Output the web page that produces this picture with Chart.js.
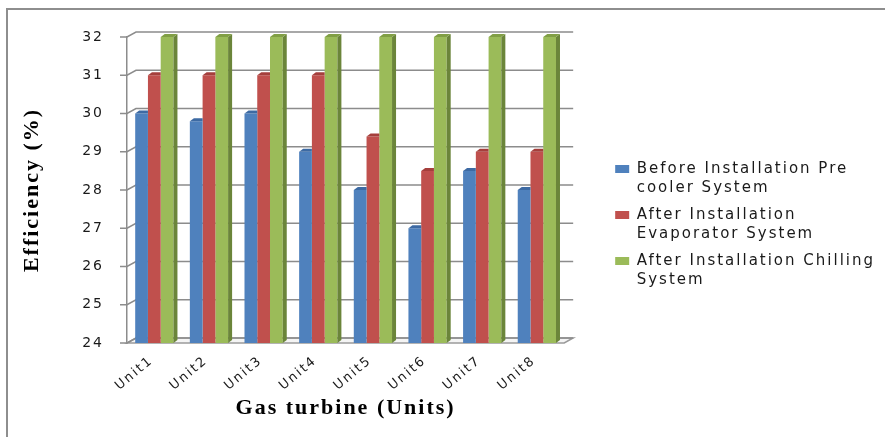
<!DOCTYPE html>
<html>
<head>
<meta charset="utf-8">
<script src="https://cdn.jsdelivr.net/npm/chart.js@4.4.1/dist/chart.umd.min.js"></script>
<style>
  html, body { margin: 0; padding: 0; background: #fff; overflow: hidden; }
  #wrap { position: relative; width: 885px; height: 437px; }
  #wrap canvas { position: absolute; left: 0; top: 0; }
  #frame { position: absolute; left: 6px; top: 8px; right: -10px; bottom: -10px;
           border-top: 2px solid #8e8e8e; border-left: 2px solid #8e8e8e; pointer-events: none; }
</style>
</head>
<body>
<div id="wrap">
  <canvas id="chart" width="885" height="437"></canvas>
  <div id="frame"></div>
</div>
<script>
const units = ["Unit1", "Unit2", "Unit3", "Unit4", "Unit5", "Unit6", "Unit7", "Unit8"];
const beforePreCooler = [30, 29.8, 30, 29, 28, 27, 28.5, 28];
const afterEvaporator = [31, 31, 31, 31, 29.4, 28.5, 29, 29];
const afterChilling = [32, 32, 32, 32, 32, 32, 32, 32];
const seriesNames = [
  ["Before Installation Pre", "cooler System"],
  ["After Installation", "Evaporator System"],
  ["After Installation Chilling", "System"]
];
const yMin = 24, yMax = 32, yStep = 1;

const faceColors = ["#4f81bd", "#c0504d", "#9bbb59"];
const capColors = ["#3d6aa3", "#a53f3c", "#819f45"];
const sideColors = ["#385d8a", "#8c3836", "#6b853a"];

// back wall offset and bar depth for the 3d look
const DX = 9, DY = 5;
const BX = 4, BY = 3;
const TICK = 7;

const depth3d = {
  id: "depth3d",
  beforeUpdate(chart) { chart.ctx.letterSpacing = "2px"; },
  beforeDraw(chart) { chart.ctx.letterSpacing = "2px"; },
  beforeDatasetsDraw(chart) {
    const { ctx, chartArea: a, scales: { y } } = chart;
    ctx.save();
    ctx.beginPath();
    ctx.moveTo(a.left, a.bottom);
    ctx.lineTo(a.right, a.bottom);
    ctx.lineTo(a.right + DX, a.bottom - DY);
    ctx.lineTo(a.left + DX, a.bottom - DY);
    ctx.closePath();
    ctx.fillStyle = "#f4f4f4";
    ctx.fill();
    ctx.strokeStyle = "#9a9a9a";
    ctx.lineWidth = 1.5;
    ctx.stroke();
    y.ticks.forEach(t => {
      const py = y.getPixelForValue(t.value);
      ctx.beginPath();
      ctx.moveTo(a.left - TICK, py);
      ctx.lineTo(a.left, py);
      ctx.lineTo(a.left + DX, py - DY);
      ctx.lineTo(a.right + DX, py - DY);
      ctx.strokeStyle = "#8c8c8c";
      ctx.lineWidth = 1.5;
      ctx.stroke();
    });
    ctx.restore();
  },
  afterDatasetsDraw(chart) {
    const ctx = chart.ctx;
    const floor = chart.chartArea.bottom;
    const last = chart.data.datasets.length - 1;
    ctx.save();
    chart.data.datasets.forEach((ds, i) => {
      chart.getDatasetMeta(i).data.forEach(bar => {
        const { x, y, base, width } = bar.getProps(["x", "y", "base", "width"], true);
        const l = x - width / 2, r = x + width / 2;
        const b = Math.min(base, floor);
        if (i === last) {
          ctx.fillStyle = sideColors[i];
          ctx.beginPath();
          ctx.moveTo(r, y); ctx.lineTo(r + BX, y - BY); ctx.lineTo(r + BX, b - BY); ctx.lineTo(r, b);
          ctx.closePath(); ctx.fill();
        }
        const capR = i === last ? r + BX : r;
        ctx.fillStyle = capColors[i];
        ctx.beginPath();
        ctx.moveTo(l, y); ctx.lineTo(l + BX, y - BY); ctx.lineTo(capR, y - BY); ctx.lineTo(r, y);
        ctx.closePath(); ctx.fill();
      });
    });
    ctx.restore();
  }
};

const tickFont = { family: "DejaVu Sans", size: 14 };
const titleFont = { family: "Liberation Serif", size: 22, weight: "bold" };

new Chart(document.getElementById("chart"), {
  type: "bar",
  data: {
    labels: units,
    datasets: [
      { label: seriesNames[0], data: beforePreCooler, backgroundColor: faceColors[0], xAxisID: "x", yAxisID: "y" },
      { label: seriesNames[1], data: afterEvaporator, backgroundColor: faceColors[1], xAxisID: "x", yAxisID: "y" },
      { label: seriesNames[2], data: afterChilling, backgroundColor: faceColors[2], xAxisID: "x", yAxisID: "y" }
    ]
  },
  options: {
    responsive: false,
    animation: false,
    categoryPercentage: 0.7,
    barPercentage: 1,
    layout: { padding: { top: 17, right: 0, bottom: 0, left: 0 } },
    plugins: {
      tooltip: { enabled: false },
      legend: {
        position: "right",
        maxWidth: 320,
        labels: {
          boxWidth: 14, boxHeight: 8, padding: 7, color: "#1a1a1a",
          font: { family: "DejaVu Sans", size: 15, lineHeight: 1.3 }
        }
      }
    },
    scales: {
      x: {
        grid: { display: false, drawTicks: false },
        border: { display: false },
        ticks: { color: "#1a1a1a", font: { family: "DejaVu Sans", size: 13 }, minRotation: 40, maxRotation: 40, padding: 10, labelOffset: -3 },
        title: { display: true, text: "Gas turbine (Units)", color: "#000", font: titleFont, padding: { top: 0, bottom: 15 } },
        afterFit(s) { s.height = 94; }
      },
      y: {
        min: yMin, max: yMax,
        ticks: { stepSize: yStep, color: "#1a1a1a", font: tickFont, padding: 3 },
        grid: { drawOnChartArea: false, tickLength: 20, tickColor: "rgba(0,0,0,0)" },
        border: { display: true, color: "#8c8c8c", width: 1.5 },
        title: { display: true, text: "Efficiency (%)", color: "#000", font: titleFont, padding: { top: 19, bottom: 0 } },
        afterFit(s) { s.width = 127; }
      },
      top: {
        type: "linear", position: "top",
        grid: { display: false }, border: { display: false }, ticks: { display: false },
        afterFit(s) { s.height = 20; }
      },
      gap: {
        type: "linear", position: "right",
        grid: { display: false }, border: { display: false }, ticks: { display: false },
        afterFit(s) { s.width = 44; }
      }
    }
  },
  plugins: [depth3d]
});
</script>
</body>
</html>
